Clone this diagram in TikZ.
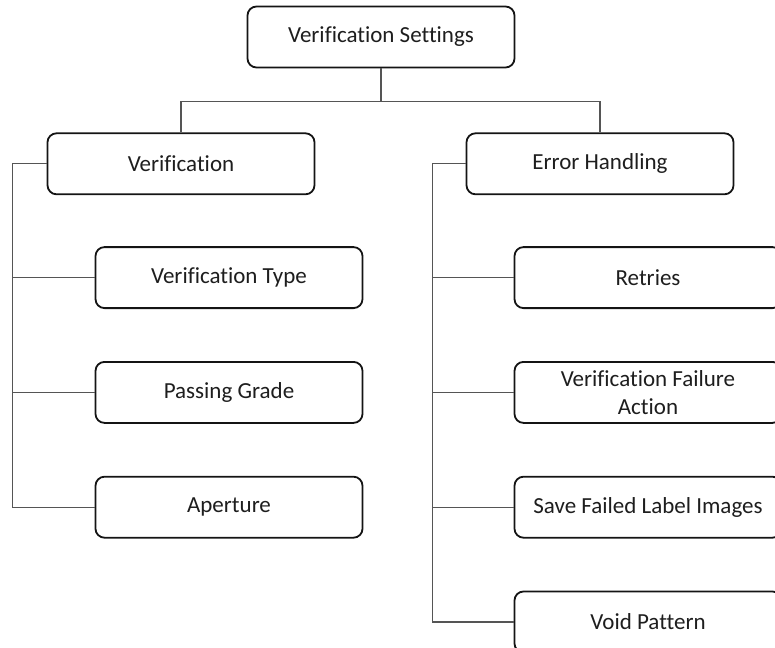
\documentclass[tikz,border=0pt]{standalone}
\usepackage{fontspec}
\setmainfont{Carlito}[Ligatures=NoCommon]
\usepackage{xcolor}
\usepackage{tikz}
\usetikzlibrary{positioning}
\definecolor{boxline}{RGB}{20,20,20}
\definecolor{treeline}{RGB}{85,85,85}
\definecolor{boxtext}{RGB}{30,30,30}

\begin{document}
\begin{tikzpicture}[
    x=1pt, y=1pt,
    node distance=52pt,
    box/.style={
        rectangle,
        rounded corners=9pt,
        draw=boxline,
        line width=1.8pt,
        fill=white,
        text=boxtext,
        minimum width=267pt,
        minimum height=61pt,
        align=center,
        font=\fontsize{23}{28}\selectfont
    },
    link/.style={draw=treeline, line width=1.2pt}
]
\useasboundingbox (0,0) rectangle (775,-647);
\clip (0,0) rectangle (775,-647);

\node[box] (settings) at (381,-37) {Verification Settings};
\node[box, below=64pt of settings, xshift=-200pt] (verif) {Verification};
\node[box, below=64pt of settings, xshift=219pt] (errors) {Error Handling};

% left branch
\node[box, below=51pt of verif, xshift=48pt] (vtype) {Verification Type};
\node[box, below=of vtype] (grade) {Passing Grade};
\node[box, below=of grade] (aperture) {Aperture};

% right branch
\node[box, below=51pt of errors, xshift=48pt] (retries) {Retries};
\node[box, below=of retries] (failact) {Verification Failure\\Action};
\node[box, below=of failact] (saveimg) {Save Failed Label Images};
\node[box, below=of saveimg] (voidpat) {Void Pattern};

\coordinate (split) at ([yshift=-33pt]settings.south);
\coordinate (lspine) at ([xshift=-34pt]verif.west);
\coordinate (rspine) at ([xshift=-33pt]errors.west);

\draw[link] (settings.south) -- (split) -| (verif.north);
\draw[link] (split) -| (errors.north);

\draw[link] (verif.west) -- (lspine) |- (aperture.west);
\draw[link] (lspine |- vtype.west) -- (vtype.west);
\draw[link] (lspine |- grade.west) -- (grade.west);

\draw[link] (errors.west) -- (rspine) |- (voidpat.west);
\draw[link] (rspine |- retries.west) -- (retries.west);
\draw[link] (rspine |- failact.west) -- (failact.west);
\draw[link] (rspine |- saveimg.west) -- (saveimg.west);
\end{tikzpicture}
\end{document}
